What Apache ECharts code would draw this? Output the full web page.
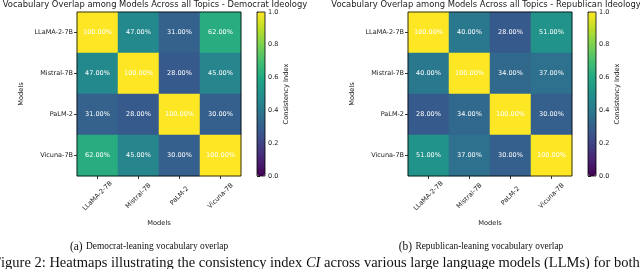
<!DOCTYPE html>
<html>
<head>
<meta charset="utf-8">
<script src="https://cdn.jsdelivr.net/npm/echarts@6/dist/echarts.min.js"></script>
<style>
html,body{margin:0;padding:0;background:#fff;}
#c{width:640px;height:269px;}
</style>
</head>
<body>
<div id="c"></div>
<script>
var models = ['LLaMA-2-7B', 'Mistral-7B', 'PaLM-2', 'Vicuna-7B'];
var democratMatrix = [
  [1.00, 0.47, 0.31, 0.62],
  [0.47, 1.00, 0.28, 0.45],
  [0.31, 0.28, 1.00, 0.30],
  [0.62, 0.45, 0.30, 1.00]
];
var republicanMatrix = [
  [1.00, 0.40, 0.28, 0.51],
  [0.40, 1.00, 0.34, 0.37],
  [0.28, 0.34, 1.00, 0.30],
  [0.51, 0.37, 0.30, 1.00]
];
var colorbarTicks = [0.0, 0.2, 0.4, 0.6, 0.8, 1.0];
var titles = [
  'Vocabulary Overlap among Models Across all Topics - Democrat Ideology',
  'Vocabulary Overlap among Models Across all Topics - Republican Ideology'
];
var subCaptions = [['(a)', 'Democrat-leaning vocabulary overlap'], ['(b)', 'Republican-leaning vocabulary overlap']];
var viridis = ['#440154','#482475','#414487','#355f8d','#2a788e','#21918c','#22a884','#44bf70','#7ad151','#bddf26','#fde725'];

function toData(m) {
  var d = [];
  for (var r = 0; r < m.length; r++) for (var c = 0; c < m[r].length; c++) d.push([c, r, m[r][c]]);
  return d;
}

var FONT = 'DejaVu Sans';
var txt = '#1a1a1a';
var gridsPos = [
  {hx: 77, cx: 257},
  {hx: 408, cx: 588}
];
var TOP = 12, SIZE = 164, CBW = 8;

var grid = [], xAxis = [], yAxis = [], series = [], visualMap = [], graphic = [];
gridsPos.forEach(function (p, i) {
  grid.push({left: p.hx, top: TOP, width: SIZE, height: SIZE, show: true, borderColor: '#000', borderWidth: 0.8, backgroundColor: 'transparent', z: 5});
  grid.push({left: p.cx, top: TOP, width: CBW, height: SIZE, show: true, borderColor: '#000', borderWidth: 0.8, backgroundColor: 'transparent', z: 5});
  var gh = i * 2, gc = i * 2 + 1;
  xAxis.push({
    type: 'category', gridIndex: gh, data: models,
    name: 'Models', nameLocation: 'middle', nameGap: 44,
    nameTextStyle: {fontFamily: FONT, fontSize: 6.7, color: txt},
    axisLine: {show: false},
    axisTick: {show: true, alignWithLabel: true, length: 3, lineStyle: {color: '#000', width: 0.8}},
    axisLabel: {rotate: 45, align: 'center', verticalAlign: 'middle', fontFamily: FONT, fontSize: 6.5, color: txt, margin: 20, interval: 0},
    splitLine: {show: false}
  });
  yAxis.push({
    type: 'category', gridIndex: gh, data: models, inverse: true,
    name: 'Models', nameLocation: 'middle', nameGap: 52,
    nameTextStyle: {fontFamily: FONT, fontSize: 6.7, color: txt},
    axisLine: {show: false},
    axisTick: {show: true, alignWithLabel: true, length: 3, lineStyle: {color: '#000', width: 0.8}},
    axisLabel: {fontFamily: FONT, fontSize: 6.5, color: txt, margin: 4, interval: 0},
    splitLine: {show: false}
  });
  xAxis.push({type: 'value', gridIndex: gc, show: false, min: 0, max: 1});
  yAxis.push({
    type: 'value', gridIndex: gc, position: 'right', min: 0, max: 1, interval: 0.2,
    name: 'Consistency Index', nameLocation: 'middle', nameGap: 18,
    nameTextStyle: {fontFamily: FONT, fontSize: 6.7, color: txt},
    axisLine: {show: false},
    axisTick: {show: true, length: 3, lineStyle: {color: '#000', width: 0.8}},
    axisLabel: {fontFamily: FONT, fontSize: 6.5, color: txt, margin: 3,
      formatter: function (v) { return v.toFixed(1); },
      customValues: colorbarTicks},
    splitLine: {show: false}
  });
  series.push({
    type: 'heatmap', xAxisIndex: gh, yAxisIndex: gh,
    data: toData(i === 0 ? democratMatrix : republicanMatrix),
    label: {show: true, color: '#fff', fontFamily: FONT, fontSize: 6.5,
      formatter: function (p) { return (p.value[2] * 100).toFixed(2) + '%'; }},
    itemStyle: {borderWidth: 0},
    emphasis: {disabled: true}
  });
  visualMap.push({
    type: 'continuous', seriesIndex: i, min: 0, max: 1,
    left: p.cx, top: TOP, itemWidth: CBW, itemHeight: SIZE,
    padding: 0, calculable: false, text: null, showLabel: false,
    inRange: {color: viridis}, orient: 'vertical', z: 4,
    textStyle: {fontSize: 0}
  });
  var center = p.hx + SIZE / 2;
  graphic.push({type: 'text', x: center - 4, y: 5, style: {
    text: titles[i], align: 'center', verticalAlign: 'middle',
    fontFamily: FONT, fontSize: 8.4, fill: txt}});
  graphic.push({type: 'text', x: i === 0 ? 149 : 481, y: 247, style: {
    text: '{a|' + subCaptions[i][0] + '} {b|' + subCaptions[i][1] + '}',
    align: 'center', verticalAlign: 'middle',
    rich: {
      a: {fontFamily: 'Liberation Serif', fontSize: 11.5, fill: '#111'},
      b: {fontFamily: 'Liberation Serif', fontSize: 9.4, fill: '#111'}
    }}});
});

graphic.push({type: 'text', x: -7, y: 271, style: {
  text: '{r|Figure 2: Heatmaps illustrating the consistency index }{i|CI}{r| across various large language models (LLMs) for both}',
  align: 'left', verticalAlign: 'bottom',
  rich: {
    r: {fontFamily: 'Liberation Serif', fontSize: 14.5, fill: '#111'},
    i: {fontFamily: 'Liberation Serif', fontSize: 14.5, fontStyle: 'italic', fill: '#111'}
  }}});

var chart = echarts.init(document.getElementById('c'), null, {renderer: 'canvas'});
chart.setOption({
  animation: false,
  backgroundColor: '#fff',
  grid: grid, xAxis: xAxis, yAxis: yAxis, series: series,
  visualMap: visualMap, graphic: graphic
});
</script>
</body>
</html>
